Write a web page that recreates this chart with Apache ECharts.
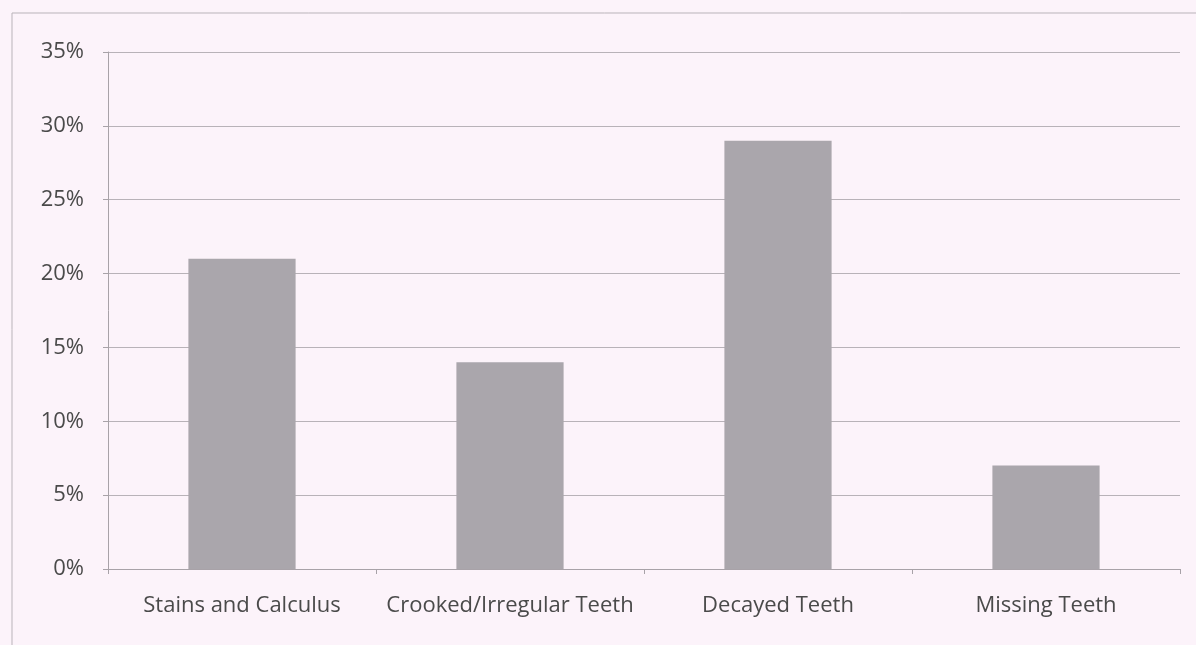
<!DOCTYPE html>
<html>
<head>
<meta charset="utf-8">
<script src="https://cdn.jsdelivr.net/npm/echarts@6/dist/echarts.min.js"></script>
<style>
  html, body { margin: 0; padding: 0; background: #fcf3fa; }
  #chart { width: 1196px; height: 645px; }
</style>
</head>
<body>
<div id="chart"></div>
<script>
// Share of respondents reporting each dental condition (%)
const categories = ['Stains and Calculus', 'Crooked/Irregular Teeth', 'Decayed Teeth', 'Missing Teeth'];
const percentages = [21, 14, 29, 7];
const yTicks = [0, 5, 10, 15, 20, 25, 30, 35];

const chart = echarts.init(document.getElementById('chart'));
const labelFont = "'Open Sans', 'Liberation Sans', sans-serif";

chart.setOption({
  backgroundColor: '#fcf3fa',
  animation: false,
  graphic: [{
    type: 'rect',
    shape: { x: 12, y: 13, width: 1200, height: 700 },
    style: { fill: 'none', stroke: '#b9b3b9', lineWidth: 1 },
    silent: true
  }],
  grid: { left: 108, right: 16, top: 52, bottom: 76 },
  xAxis: {
    type: 'category',
    data: categories,
    axisLine: { lineStyle: { color: '#a8a2a8', width: 1 } },
    axisTick: { show: true, length: 5, lineStyle: { color: '#a8a2a8' } },
    axisLabel: { color: '#4a4a4a', fontSize: 22, fontFamily: labelFont, margin: 26, interval: 0 }
  },
  yAxis: {
    type: 'value',
    min: 0,
    max: yTicks[yTicks.length - 1],
    interval: 5,
    axisLine: { show: true, lineStyle: { color: '#a8a2a8', width: 1 } },
    axisTick: { show: true, length: 5, lineStyle: { color: '#a8a2a8' } },
    axisLabel: { color: '#4a4a4a', fontSize: 22, fontFamily: labelFont, margin: 24, formatter: '{value}%' },
    splitLine: { lineStyle: { color: '#b8b2b8', width: 1 } }
  },
  series: [{
    type: 'bar',
    data: percentages,
    barWidth: '40%',
    itemStyle: { color: '#aaa6ac' }
  }]
});
</script>
</body>
</html>
